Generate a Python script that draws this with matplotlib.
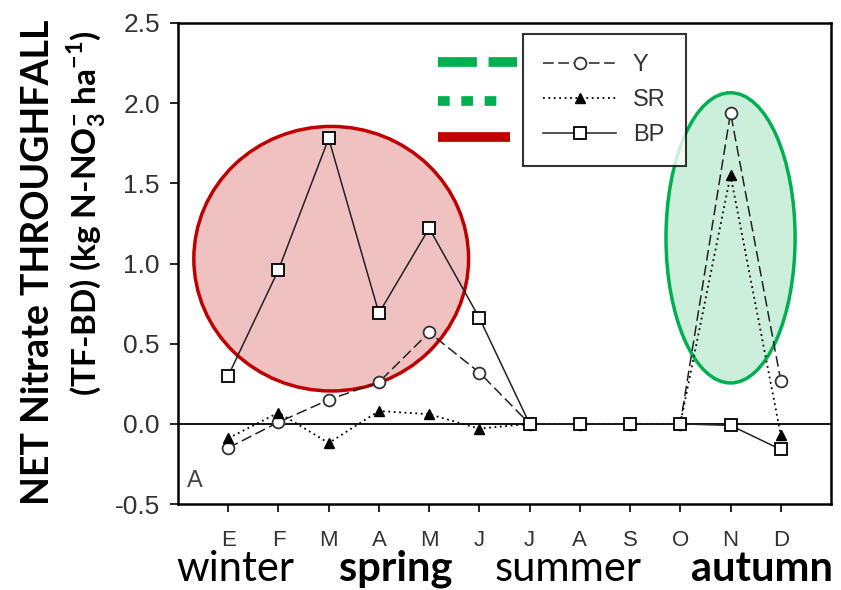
import matplotlib
matplotlib.use("Agg")
import matplotlib.pyplot as plt
from matplotlib.patches import Ellipse
from matplotlib.lines import Line2D

# dados mensais (E..D)
meses = ["E", "F", "M", "A", "M", "J", "J", "A", "S", "O", "N", "D"]
y_vals = [-0.15, 0.01, 0.15, 0.26, 0.57, 0.32, 0.0, 0.0, 0.0, 0.0, 1.94, 0.27]
sr_vals = [-0.09, 0.07, -0.12, 0.08, 0.06, -0.03, 0.0, 0.0, 0.0, 0.0, 1.55, -0.07]
bp_vals = [0.30, 0.96, 1.78, 0.69, 1.22, 0.66, 0.0, 0.0, 0.0, 0.0, -0.01, -0.16]
estacoes = ["winter", "spring", "summer", "autumn"]

plt.rcParams["font.family"] = ["Liberation Sans", "DejaVu Sans"]
plt.rcParams["mathtext.fontset"] = "custom"
plt.rcParams["mathtext.rm"] = "Lato"
plt.rcParams["mathtext.bf"] = "Lato:bold"

fig = plt.figure(figsize=(8.41, 5.90), dpi=100)
ax = fig.add_axes([178/841, 1-504/590, (831-178)/841, (504-23)/590])

x = list(range(1, len(meses) + 1))

# elipses de destaque
ax.add_patch(Ellipse((3.05, 1.03), 5.47, 1.65, facecolor="#d04040", alpha=0.32,
                     edgecolor="none", zorder=1))
ax.add_patch(Ellipse((3.05, 1.03), 5.47, 1.65, facecolor="none", edgecolor="#c00000",
                     linewidth=2.5, zorder=1))
ax.add_patch(Ellipse((11.0, 1.16), 2.57, 1.81, facecolor="#00b050", alpha=0.2,
                     edgecolor="none", zorder=1))
ax.add_patch(Ellipse((11.0, 1.16), 2.57, 1.81, facecolor="none", edgecolor="#00b050",
                     linewidth=2.5, zorder=1))

ax.axhline(0, color="black", linewidth=1.3, zorder=2)

l_y, = ax.plot(x, y_vals, color="#222222", linestyle=(0, (7, 3)), linewidth=1.1,
               marker="o", markersize=8.5, markerfacecolor="white",
               markeredgecolor="#333333", markeredgewidth=1.3, zorder=3, label="Y")
l_sr, = ax.plot(x, sr_vals, color="black", linestyle=(0, (1, 2)), linewidth=1.3,
                marker="^", markersize=7.5, markerfacecolor="black",
                markeredgecolor="black", zorder=4, label="SR")
l_bp, = ax.plot(x, bp_vals, color="#222222", linestyle="-", linewidth=1.1,
                marker="s", markersize=8.5, markerfacecolor="white",
                markeredgecolor="black", markeredgewidth=1.3, zorder=5, label="BP")

ax.set_xlim(0, 13)
ax.set_ylim(-0.5, 2.5)
ax.set_xticks(x)
ax.set_xticklabels(meses)
ax.set_yticks([-0.5, 0.0, 0.5, 1.0, 1.5, 2.0, 2.5])
ax.set_yticklabels(["-0.5", "0.0", "0.5", "1.0", "1.5", "2.0", "2.5"])
ax.tick_params(direction="out", length=6, width=1.2, labelcolor="#333333")
ax.tick_params(axis="x", labelsize=16, pad=13)
ax.tick_params(axis="y", labelsize=19, pad=7)
for s in ax.spines.values():
    s.set_linewidth(1.8)

ax.text(0.34, -0.355, "A", fontsize=17, color="#444444", ha="center", va="center")

leg = ax.legend(handles=[l_y, l_sr, l_bp], loc="upper left",
                bbox_to_anchor=(523/841, 1-34/590), bbox_transform=fig.transFigure,
                fontsize=17, frameon=True, fancybox=False, handlelength=3.1,
                handletextpad=0.7, borderpad=0.85, labelspacing=0.55,
                borderaxespad=0)
leg.get_frame().set_edgecolor("black")
leg.get_frame().set_linewidth(1.5)
for t in leg.get_texts():
    t.set_color("#333333")

# amostras coloridas ao lado da legenda
fig.add_artist(Line2D([438/841, 517/841], [1-62/590, 1-62/590], color="#00b050",
                      linewidth=7, linestyle=(0, (4, 1.2))))
fig.add_artist(Line2D([438/841, 505/841], [1-101/590, 1-101/590], color="#00b050",
                      linewidth=7, linestyle=(0, (1.2, 1.2))))
fig.add_artist(Line2D([438/841, 510/841], [1-137/590, 1-137/590], color="#c00000",
                      linewidth=7, solid_capstyle="butt"))

# rótulo do eixo y
fig.text(38/841, 1-262/590, "NET Nitrate THROUGHFALL", rotation=90, fontsize=27,
         fontweight="bold", family="Lato", ha="center", va="center")
fig.text(86/841, 1-213/590, r"(TF-BD) (kg N-NO$_\mathbf{3}^\mathbf{-}$ ha$^\mathbf{-1}$)",
         rotation=90, fontsize=24, fontweight="bold", family="Lato",
         ha="center", va="center")

# estações
pos_x = [235, 396, 568, 762]
pesos = ["normal", "bold", "normal", "bold"]
for nome, px, w in zip(estacoes, pos_x, pesos):
    fig.text(px/841, 1-581/590, nome, fontsize=30, fontweight=w, family="Lato",
             ha="center", va="baseline")

fig.savefig("out.png", dpi=100)
